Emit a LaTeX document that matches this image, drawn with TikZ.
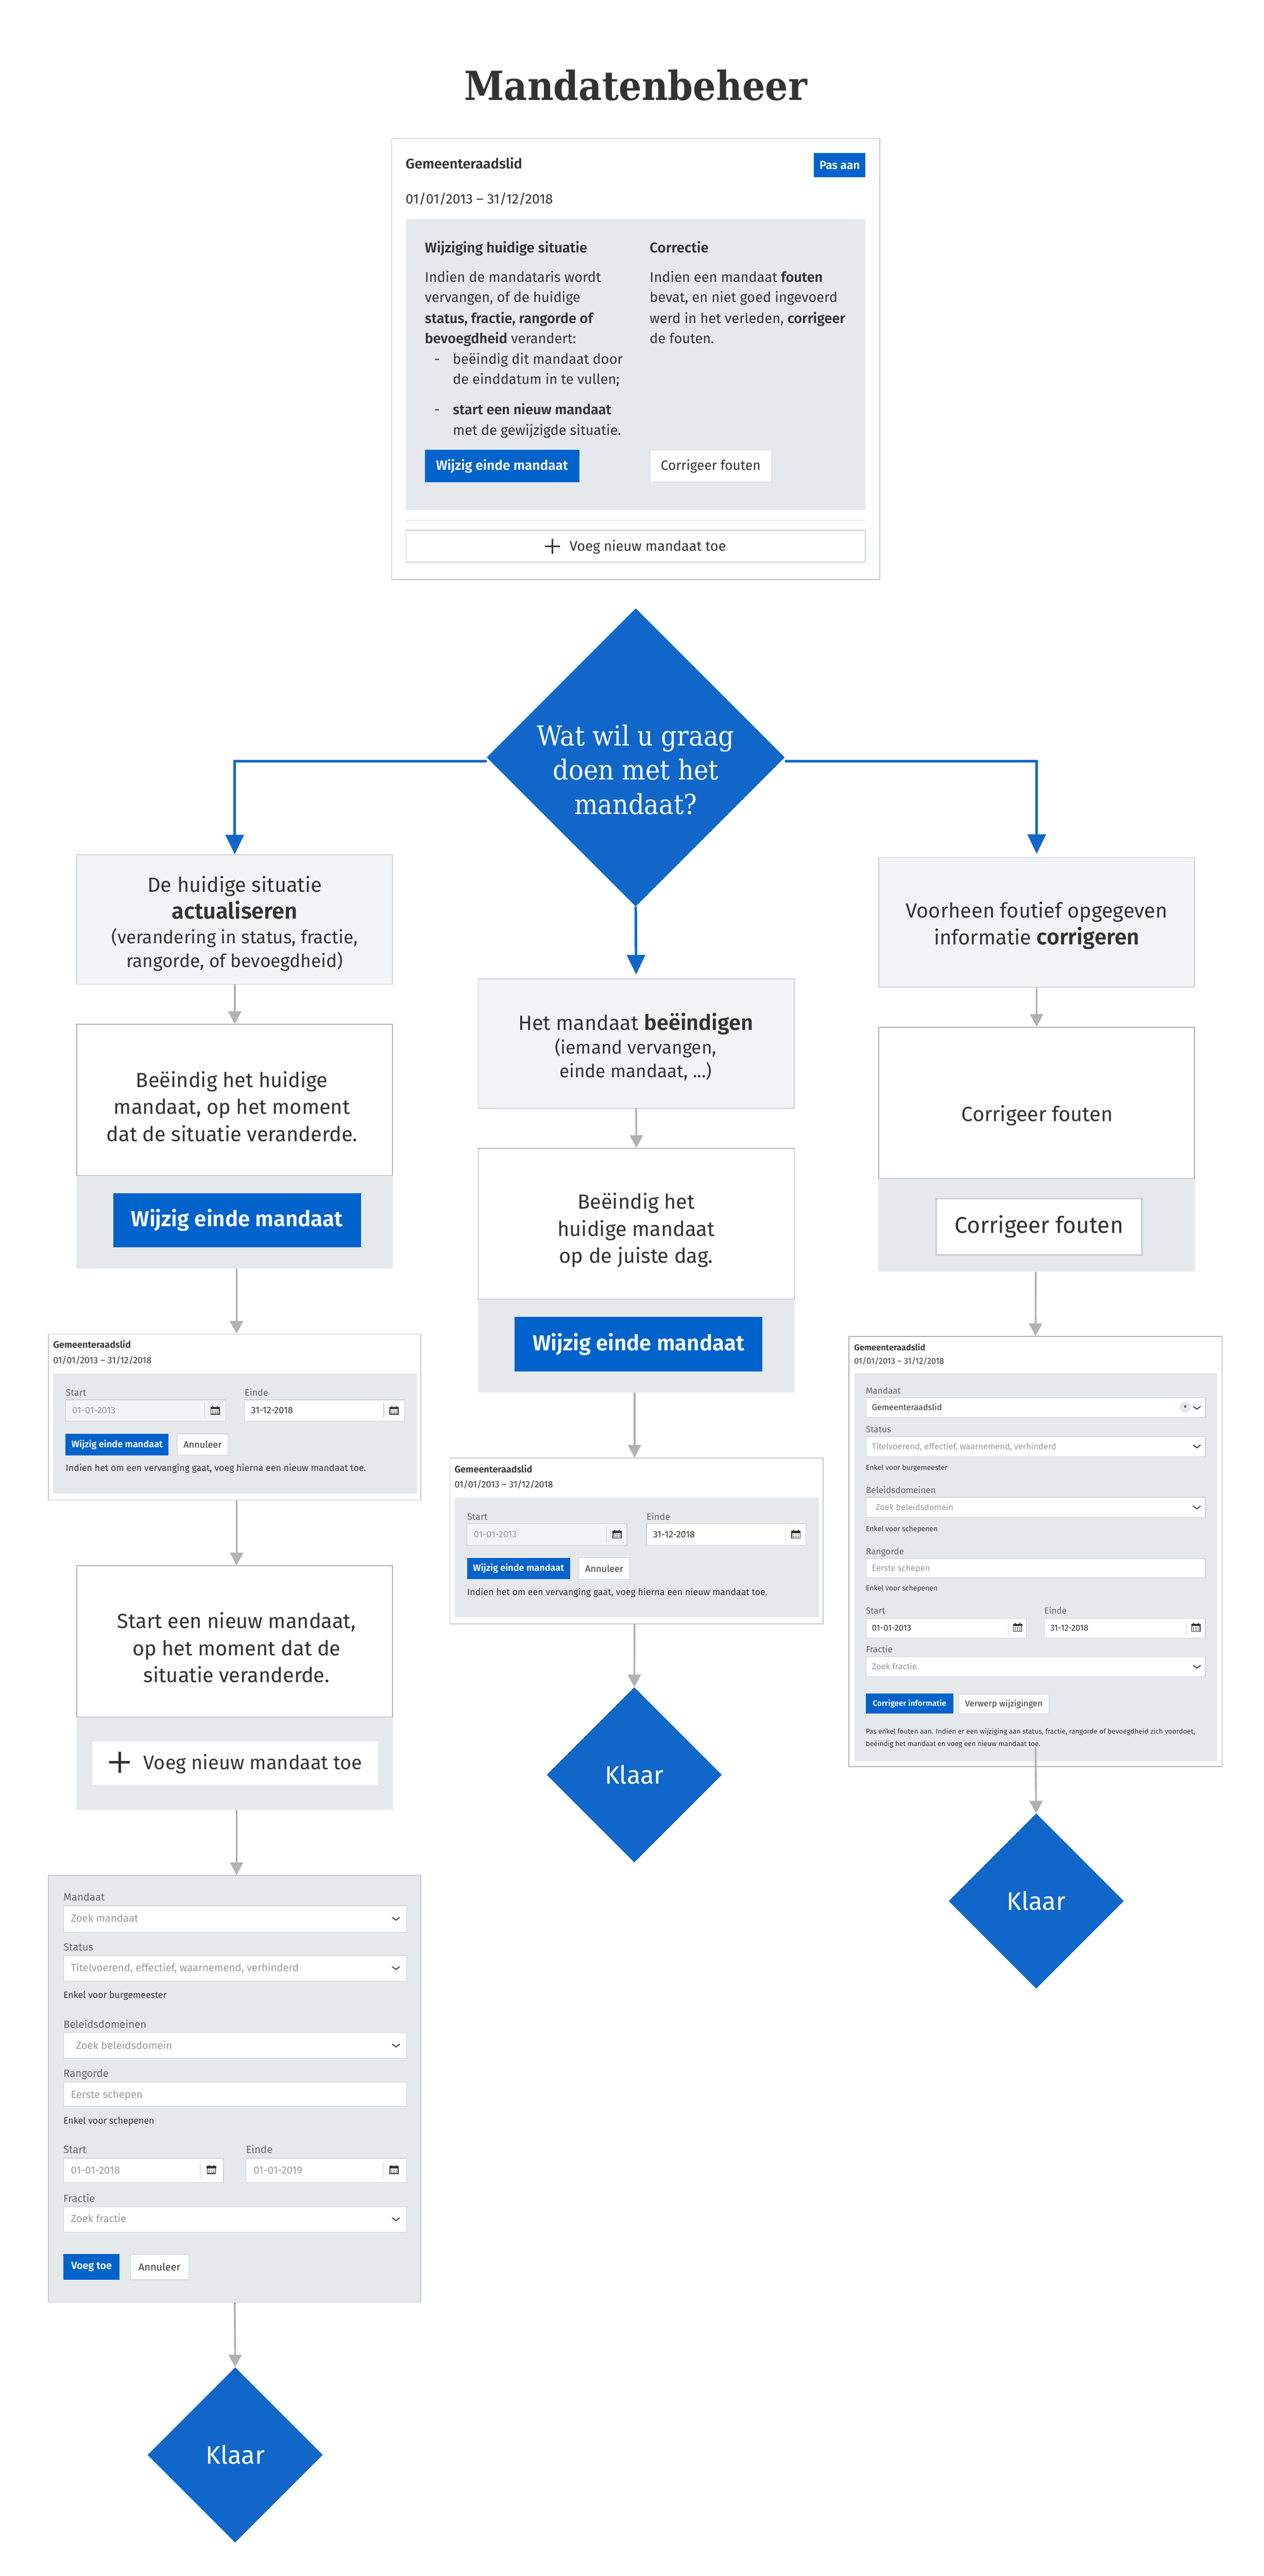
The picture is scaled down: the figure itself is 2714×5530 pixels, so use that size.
\documentclass[tikz,border=0pt]{standalone}
\usepackage{fontspec}
\setmainfont{Fira Sans}[BoldFont={Fira Sans SemiBold}]
\newfontfamily\titlefont{DejaVu Serif Condensed}
\usetikzlibrary{arrows.meta,shapes.geometric}
\definecolor{vlblue}{HTML}{1067C9}
\definecolor{btnblue}{HTML}{0063CC}
\definecolor{inkdark}{HTML}{333332}
\definecolor{panelgrey}{HTML}{E6E9EC}
\definecolor{softgrey}{HTML}{F3F4F6}
\definecolor{rimgrey}{HTML}{CBD2DA}
\definecolor{linegrey}{HTML}{B2B2B2}
\definecolor{labelgrey}{HTML}{666666}
\definecolor{holdgrey}{HTML}{999999}
\tikzset{
  uibase/.style = {rectangle, inner sep=0pt, align=center, text=inkdark},
  whitecard/.style = {uibase, fill=white, draw=linegrey!70, line width=2pt},
  addcard/.style = {uibase, fill=white, draw=rimgrey, line width=2pt},
  flowcard/.style = {uibase, fill=white, draw=linegrey, line width=2pt},
  softbox/.style = {uibase, fill=softgrey, draw=rimgrey, line width=2pt},
  panel/.style = {uibase, fill=panelgrey},
  formpanel/.style = {uibase, fill=panelgrey, draw=linegrey!70, line width=2pt},
  field/.style = {uibase, fill=white, draw=rimgrey, line width=1.2pt},
  offfield/.style = {uibase, fill=softgrey, draw=rimgrey, line width=1.2pt},
  bluebtn/.style = {uibase, fill=btnblue, text=white, font=\bfseries\fontsize{#1}{#1}\selectfont},
  whitebtn/.style = {uibase, fill=white, draw=rimgrey, line width=1.2pt, font=\fontsize{#1}{#1}\selectfont},
  tx/.style = {anchor=base west, inner sep=0pt, text=inkdark, font=\fontsize{#1}{#1}\selectfont},
  txb/.style = {anchor=base west, inner sep=0pt, text=inkdark, font=\bfseries\fontsize{#1}{#1}\selectfont},
  lbl/.style = {tx=#1, text=labelgrey},
  hold/.style = {tx=#1, text=holdgrey},
  flowtxt/.style = {inner sep=0pt, align=center, text=inkdark, font=\fontsize{44}{58}\selectfont},
  klaar/.style = {diamond, aspect=1, inner sep=0pt, fill=vlblue, text=white,
    minimum width=376pt, minimum height=376pt, font=\fontsize{54}{54}\selectfont},
  bluearrow/.style = {draw=vlblue, line width=5.5pt, -{Triangle[width=39pt,length=42pt,fill=vlblue]}},
  greyarrow/.style = {draw=linegrey, line width=4pt, -{Triangle[width=28pt,length=27pt,fill=linegrey]}},
  sep/.style = {draw=rimgrey, line width=1.2pt},
  chev/.style = {draw=inkdark, line width=2pt},
}
% style, name, left, top, right, bottom, text
\newcommand{\uibox}[7]{\node[#1, minimum width={(#5-#3)*1pt}, minimum height={(#6-#4)*1pt}] (#2)
  at ({(#3+#5)/2},{(#4+#6)/2}) {#7};}
\newcommand{\chevron}[2]{\draw[chev] (#1-8,#2-3) -- (#1,#2+3) -- (#1+8,#2-3);}
\newcommand{\calicon}[2]{
  \draw[draw=inkdark, line width=1.6pt] (#1-9,#2-7) rectangle (#1+9,#2+8);
  \fill[inkdark] (#1-10,#2-8) rectangle (#1+10,#2-3);
  \fill[inkdark] (#1-6,#2-10) rectangle (#1-4,#2-6) (#1+4,#2-10) rectangle (#1+6,#2-6);
  \foreach \cx in {-5,0,5} {\fill[inkdark] (#1+\cx-1,#2) rectangle (#1+\cx+1,#2+2) (#1+\cx-1,#2+4) rectangle (#1+\cx+1,#2+6);}
}
\begin{document}
\begin{tikzpicture}[x=1pt,y=-1pt]
\useasboundingbox[fill=white] (0,0) rectangle (2714,5530);

\node[anchor=base, inner sep=0pt, text=inkdark, font=\titlefont\bfseries\fontsize{86}{86}\selectfont] (title) at (1365,215) {Mandatenbeheer};

% kaart bovenaan
\uibox{whitecard}{topcard}{841}{297}{1889}{1244}{}
\node[txb=30] (topname) at (871,362) {Gemeenteraadslid};
\uibox{bluebtn=25}{topedit}{1748}{328}{1858}{381}{Pas aan}
\node[tx=29.5] (topdate) at (871,437) {01/01/2013 -- 31/12/2018};
\uibox{panel}{toppanel}{872}{470}{1858}{1095}{}
\node[txb=30.5] (wijzighead) at (912,542) {Wijziging huidige situatie};
\node[txb=30.5] (correcthead) at (1395,542) {Correctie};
\node[tx=30] (wl1) at (912,605) {Indien de mandataris wordt};
\node[tx=30] (wl2) at (912,649) {vervangen, of de huidige};
\node[txb=30] (wl3) at (912,694) {status, fractie, rangorde of};
\node[tx=30] (wl4) at (912,737) {\textbf{bevoegdheid} verandert:};
\node[tx=30] (dash1) at (932,781) {-};
\node[tx=30] (wl5) at (972,781) {beëindig dit mandaat door};
\node[tx=30] (wl6) at (972,825) {de einddatum in te vullen;};
\node[tx=30] (dash2) at (932,890) {-};
\node[txb=30] (wl7) at (972,890) {start een nieuw mandaat};
\node[tx=30] (wl8) at (972,934) {met de gewijzigde situatie.};
\node[tx=30] (cl1) at (1395,605) {Indien een mandaat \textbf{fouten}};
\node[tx=30] (cl2) at (1395,649) {bevat, en niet goed ingevoerd};
\node[tx=30] (cl3) at (1395,694) {werd in het verleden, \textbf{corrigeer}};
\node[tx=30] (cl4) at (1395,737) {de fouten.};
\uibox{bluebtn=29}{topwijzig}{912}{966}{1244}{1035}{Wijzig einde mandaat}
\uibox{whitebtn=29}{topfout}{1395}{966}{1657}{1035}{Corrigeer fouten}
\draw[draw=panelgrey, line width=1.5pt] (872,1117) -- (1858,1117);
\uibox{addcard}{topadd}{872}{1138}{1858}{1207}{}
\draw[draw=inkdark, line width=4pt] (1170,1173) -- (1202,1173) (1186,1157) -- (1186,1189);
\node[tx=30] (topaddtxt) at (1223,1183) {Voeg nieuw mandaat toe};

% beslissing
\node[diamond, aspect=1, inner sep=0pt, fill=vlblue, minimum width=640pt, minimum height=640pt] (ask) at (1365,1626) {};
\node[inner sep=0pt, align=center, text=white, font=\titlefont\fontsize{59}{73.5}\selectfont] (asktxt) at (1365,1652) {Wat wil u graag\\doen met het\\mandaat?};

% linkse kolom
\uibox{softbox}{actbox}{165}{1835}{843}{2113}{}
\node[inner sep=0pt, align=center, text=inkdark, font=\fontsize{44}{57}\selectfont] (acttxt) at (504,1983)
  {De huidige situatie\\{\bfseries\fontsize{48}{57}\selectfont actualiseren}\\[-4pt]{\fontsize{39}{50}\selectfont (verandering in status, fractie,}\\[-6pt]{\fontsize{39}{50}\selectfont rangorde, of bevoegdheid)}};
\uibox{flowcard}{stopcard}{165}{2199}{843}{2524}{}
\node[flowtxt] (stoptxt) at (498,2375) {Beëindig het huidige\\mandaat, op het moment\\dat de situatie veranderde.};
\uibox{panel}{stoppanel}{164}{2524}{844}{2723}{}
\uibox{bluebtn=46.5}{stopbtn}{243}{2561}{775}{2678}{Wijzig einde mandaat}

\uibox{whitecard}{lcard}{104}{2864}{904}{3220}{}
\node[txb=20] (lname) at (114,2894) {Gemeenteraadslid};
\node[tx=19.7] (ldate) at (114,2927) {01/01/2013 -- 31/12/2018};
\uibox{panel}{lpanel}{114}{2949}{896}{3206}{}
\node[lbl=20] (lstart) at (141,2997) {Start};
\uibox{offfield}{lf1}{141}{3005}{485}{3051}{}
\node[hold=20] (lf1t) at (155,3034) {01-01-2013};
\draw[sep] (440,3012) -- (440,3044);
\calicon{462}{3028}
\node[lbl=20] (leinde) at (525,2997) {Einde};
\uibox{field}{lf2}{525}{3005}{869}{3051}{}
\node[tx=20] (lf2t) at (539,3034) {31-12-2018};
\draw[sep] (824,3012) -- (824,3044);
\calicon{846}{3028}
\uibox{bluebtn=20}{lwijzig}{141}{3078}{362}{3124}{Wijzig einde mandaat}
\uibox{whitebtn=20}{lcancel}{381}{3078}{489}{3124}{Annuleer}
\node[tx=19.7] (lnote) at (141,3158) {Indien het om een vervanging gaat, voeg hierna een nieuw mandaat toe.};

\uibox{flowcard}{newcard}{165}{3361}{843}{3686}{}
\node[flowtxt] (newtxt) at (508,3537) {Start een nieuw mandaat,\\op het moment dat de\\situatie veranderde.};
\uibox{panel}{newpanel}{164}{3686}{844}{3885}{}
\uibox{uibase, fill=white}{newbtn}{198}{3738}{812}{3832}{}
\draw[draw=inkdark, line width=5pt] (234,3783) -- (279,3783) (257,3760) -- (257,3806);
\node[tx=42] (newbtnt) at (308,3798) {Voeg nieuw mandaat toe};

% formulier links
\uibox{formpanel}{form}{104}{4026}{904}{4942}{}
\node[lbl=22.5] (fmandaat) at (136,4081) {Mandaat};
\uibox{field}{fm}{137}{4091}{873}{4148}{}
\node[hold=22.5] (fmt) at (152,4126) {Zoek mandaat};
\chevron{850}{4119}
\node[lbl=22.5] (fstatus) at (136,4188) {Status};
\uibox{field}{fs}{137}{4198}{873}{4253}{}
\node[hold=22.5] (fst) at (152,4232) {Titelvoerend, effectief, waarnemend, verhinderd};
\chevron{850}{4225}
\node[tx=19.6] (fburg) at (136,4290) {Enkel voor burgemeester};
\node[lbl=22.5] (fbeleid) at (136,4354) {Beleidsdomeinen};
\uibox{field}{fb}{137}{4364}{873}{4419}{}
\node[hold=22.5] (fbt) at (163,4399) {Zoek beleidsdomein};
\chevron{850}{4391}
\node[lbl=22.5] (frang) at (136,4459) {Rangorde};
\uibox{field}{fr}{137}{4470}{873}{4522}{}
\node[hold=22.5] (frt) at (152,4504) {Eerste schepen};
\node[tx=19.6] (fschep) at (136,4559) {Enkel voor schepenen};
\node[lbl=22.5] (fstart) at (136,4623) {Start};
\uibox{field}{fd1}{137}{4633}{480}{4686}{}
\node[hold=22.5] (fd1t) at (152,4667) {01-01-2018};
\draw[sep] (430,4641) -- (430,4678);
\calicon{454}{4658}
\node[lbl=22.5] (feinde) at (528,4623) {Einde};
\uibox{field}{fd2}{528}{4633}{873}{4686}{}
\node[hold=22.5] (fd2t) at (544,4667) {01-01-2019};
\draw[sep] (822,4641) -- (822,4678);
\calicon{846}{4658}
\node[lbl=22.5] (ffractie) at (136,4727) {Fractie};
\uibox{field}{ff}{137}{4737}{873}{4792}{}
\node[hold=22.5] (fft) at (152,4771) {Zoek fractie};
\chevron{850}{4764}
\uibox{bluebtn=22}{fadd}{136}{4839}{257}{4894}{Voeg toe}
\uibox{whitebtn=22}{fcancel}{280}{4839}{405}{4894}{Annuleer}
\node[klaar] (doneL) at (505,5270) {Klaar};

% middelste kolom
\uibox{softbox}{endbox}{1027}{2101}{1705}{2379}{}
\node[inner sep=0pt, align=center, text=inkdark, font=\fontsize{44}{57}\selectfont] (endtxt) at (1365,2247)
  {Het mandaat {\bfseries\fontsize{46}{57}\selectfont beëindigen}\\[-6pt]{\fontsize{39}{50}\selectfont (iemand vervangen,}\\[-6pt]{\fontsize{39}{50}\selectfont einde mandaat, ...)}};
\uibox{flowcard}{midcard}{1027}{2465}{1706}{2789}{}
\node[flowtxt] (midtxt) at (1366,2641) {Beëindig het\\huidige mandaat\\op de juiste dag.};
\uibox{panel}{midpanel}{1026}{2789}{1707}{2989}{}
\uibox{bluebtn=46.5}{midbtn}{1105}{2827}{1637}{2944}{Wijzig einde mandaat}

\uibox{whitecard}{mcard}{966}{3130}{1767}{3486}{}
\node[txb=20] (mname) at (976,3162) {Gemeenteraadslid};
\node[tx=19.7] (mdate) at (976,3194) {01/01/2013 -- 31/12/2018};
\uibox{panel}{mpanel}{977}{3215}{1758}{3472}{}
\node[lbl=20] (mstart) at (1003,3263) {Start};
\uibox{offfield}{mf1}{1003}{3271}{1346}{3317}{}
\node[hold=20] (mf1t) at (1017,3301) {01-01-2013};
\draw[sep] (1302,3278) -- (1302,3310);
\calicon{1325}{3294}
\node[lbl=20] (meinde) at (1388,3263) {Einde};
\uibox{field}{mf2}{1388}{3271}{1730}{3317}{}
\node[tx=20] (mf2t) at (1402,3301) {31-12-2018};
\draw[sep] (1687,3278) -- (1687,3310);
\calicon{1709}{3294}
\uibox{bluebtn=20}{mwijzig}{1003}{3344}{1224}{3390}{Wijzig einde mandaat}
\uibox{whitebtn=20}{mcancel}{1243}{3344}{1352}{3390}{Annuleer}
\node[tx=19.7] (mnote) at (1003,3425) {Indien het om een vervanging gaat, voeg hierna een nieuw mandaat toe.};
\node[klaar] (doneM) at (1362,3810) {Klaar};

% rechtse kolom
\uibox{softbox}{fixbox}{1887}{1841}{2565}{2119}{}
\node[flowtxt] (fixtxt) at (2226,1987) {Voorheen foutief opgegeven\\informatie {\bfseries\fontsize{47}{58}\selectfont corrigeren}};
\uibox{flowcard}{fixcard}{1887}{2205}{2565}{2530}{}
\node[flowtxt] (fixcardt) at (2227,2395) {Corrigeer fouten};
\uibox{panel}{fixpanel}{1886}{2530}{2566}{2730}{}
\uibox{uibase, fill=white, draw=rimgrey, line width=4pt, font=\fontsize{49}{49}\selectfont}{fixbtn}{2010}{2573}{2452}{2694}{Corrigeer fouten}

\uibox{flowcard}{rcard}{1823}{2869}{2624}{3792}{}
\node[txb=18.3] (rname) at (1834,2899) {Gemeenteraadslid};
\node[tx=18] (rdate) at (1834,2928) {01/01/2013 -- 31/12/2018};
\uibox{panel}{rpanel}{1835}{2948}{2613}{3781}{}
\node[lbl=19] (rmandaat) at (1859,2992) {Mandaat};
\uibox{field}{rm}{1860}{3000}{2588}{3043}{}
\node[tx=18.2] (rmt) at (1872,3028) {Gemeenteraadslid};
\node[circle, inner sep=0pt, minimum size=24pt, fill=panelgrey, font=\bfseries\fontsize{14}{14}\selectfont, text=inkdark] (rclear) at (2545,3021) {×};
\chevron{2570}{3022}
\node[lbl=19] (rstatus) at (1859,3075) {Status};
\uibox{field}{rs}{1860}{3084}{2588}{3127}{}
\node[hold=18.2] (rst) at (1872,3112) {Titelvoerend, effectief, waarnemend, verhinderd};
\chevron{2570}{3105}
\node[tx=15.5] (rburg) at (1859,3156) {Enkel voor burgemeester};
\node[lbl=19] (rbeleid) at (1859,3206) {Beleidsdomeinen};
\uibox{field}{rb}{1860}{3214}{2588}{3258}{}
\node[hold=18.2] (rbt) at (1880,3242) {Zoek beleidsdomein};
\chevron{2570}{3236}
\node[tx=15.5] (rschep1) at (1859,3287) {Enkel voor schepenen};
\node[lbl=19] (rrang) at (1859,3337) {Rangorde};
\uibox{field}{rr}{1860}{3346}{2588}{3387}{}
\node[hold=18.2] (rrt) at (1872,3373) {Eerste schepen};
\node[tx=15.5] (rschep2) at (1859,3415) {Enkel voor schepenen};
\node[lbl=19] (rstart) at (1859,3465) {Start};
\uibox{field}{rd1}{1860}{3474}{2204}{3516}{}
\node[tx=18.2] (rd1t) at (1872,3501) {01-01-2013};
\draw[sep] (2165,3480) -- (2165,3510);
\calicon{2185}{3494}
\node[lbl=19] (reinde) at (2242,3465) {Einde};
\uibox{field}{rd2}{2242}{3474}{2588}{3516}{}
\node[tx=18.2] (rd2t) at (2255,3501) {31-12-2018};
\draw[sep] (2548,3480) -- (2548,3510);
\calicon{2568}{3494}
\node[lbl=19] (rfractie) at (1859,3548) {Fractie};
\uibox{field}{rf}{1860}{3556}{2588}{3599}{}
\node[hold=18.2] (rft) at (1872,3584) {Zoek fractie};
\chevron{2570}{3578}
\uibox{bluebtn=17}{rfix}{1859}{3635}{2047}{3679}{Corrigeer informatie}
\uibox{whitebtn=18.5}{rreject}{2059}{3637}{2252}{3679}{Verwerp wijzigingen}
\node[tx=15] (rnote1) at (1859,3722) {Pas enkel fouten aan. Indien er een wijziging aan status, fractie, rangorde of bevoegdheid zich voordoet,};
\node[tx=15] (rnote2) at (1859,3749) {beëindig het mandaat en voeg een nieuw mandaat toe.};
\node[klaar] (doneR) at (2225,4081) {Klaar};

% pijlen
\draw[bluearrow] ([yshift=-8pt]ask.west) -| (actbox.north);
\draw[bluearrow] (ask.south) -- ([yshift=8pt]endbox.north);
\draw[bluearrow] ([yshift=-8pt]ask.east) -| ([yshift=7pt]fixbox.north);
\draw[greyarrow] (actbox.south) -- (stopcard.north);
\draw[greyarrow] ([xshift=4pt]stoppanel.south) -- ([xshift=4pt]lcard.north);
\draw[greyarrow] ([xshift=4pt]lcard.south) -- ([xshift=4pt]newcard.north);
\draw[greyarrow] ([xshift=4pt]newpanel.south) -- ([xshift=4pt]form.north);
\draw[greyarrow] (form.south) -- (doneL.north);
\draw[greyarrow] (endbox.south) -- (midcard.north);
\draw[greyarrow] ([xshift=-4pt]midpanel.south) -- ([xshift=-4pt]mcard.north);
\draw[greyarrow] ([xshift=-4pt]mcard.south) -- (doneM.north);
\draw[greyarrow] (fixbox.south) -- (fixcard.north);
\draw[greyarrow] ([xshift=-2pt]fixpanel.south) -- (rcard.north);
\draw[greyarrow] ([yshift=42pt]rcard.south) -- (doneR.north);
\end{tikzpicture}
\end{document}
